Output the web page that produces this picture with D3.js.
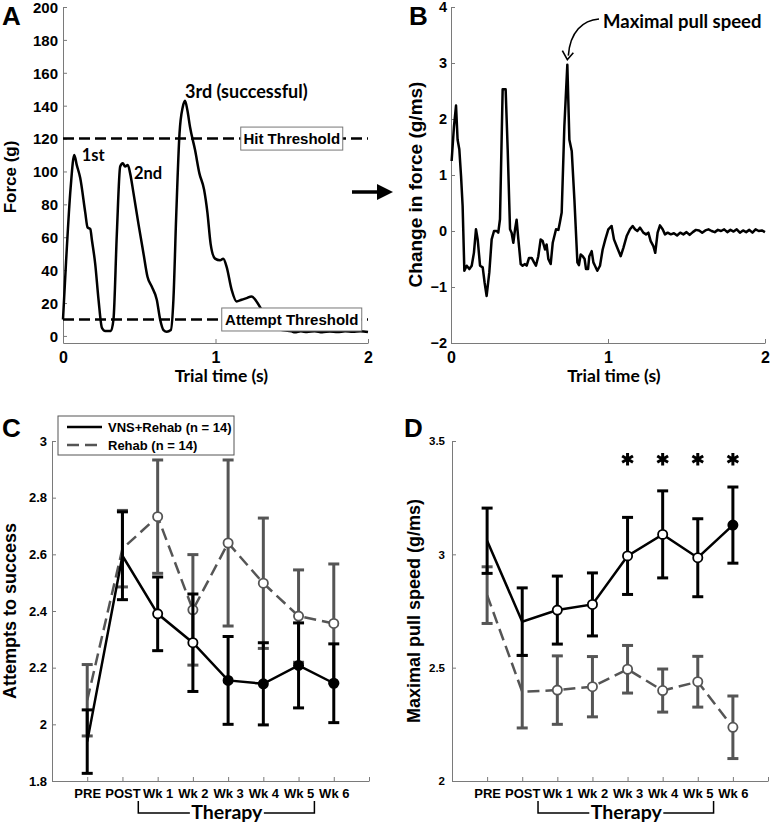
<!DOCTYPE html>
<html><head><meta charset="utf-8">
<script src="https://cdn.jsdelivr.net/npm/d3@7"></script>
<style>
body{margin:0;background:#fff;}
svg{display:block;}
</style></head>
<body>
<script>
// ---------- DATA ----------
// Panel A: force trace
const forceTime = [0,0.02,0.05,0.074,0.09,0.113,0.146,0.161,0.179,0.19,0.211,0.233,0.255,0.277,0.314,0.331,0.353,0.375,0.392,0.407,0.425,0.44,0.462,0.495,0.528,0.554,0.582,0.615,0.637,0.659,0.68,0.707,0.724,0.742,0.764,0.785,0.8,0.816,0.833,0.866,0.894,0.925,0.947,0.968,0.997,1.03,1.051,1.073,1.106,1.138,1.171,1.204,1.236,1.269,1.302,1.35,1.42,1.5,1.52,1.56,1.6,1.65,1.7,1.75,1.8,1.85,1.9,1.95,2.0];
const forceValue = [10,45,90,110,104,96,75,66,65,58,44,22,5,3,3,10,62,103,105,103,104,99,87,68,50,36,30,22,10,3.6,2.6,3.6,22,72,123,139,143,137,127,113,99,89,75,56,47,46,47,42,28,21,22,23,24,21,16,9,4,2.8,2.2,2.8,2.4,2.9,2.3,2.7,2.4,2.8,2.5,2.9,2.4];
const thresholdValues = [120, 10];
const thresholdLabels = ["Hit Threshold", "Attempt Threshold"];
const peakLabels = ["1st", "2nd", "3rd (successful)"];

// Panel B: change in force
const dfTime = [0.004,0.019,0.032,0.042,0.053,0.064,0.074,0.085,0.100,0.117,0.132,0.146,0.159,0.170,0.185,0.202,0.214,0.227,0.244,0.259,0.274,0.291,0.301,0.312,0.329,0.348,0.361,0.376,0.386,0.397,0.408,0.418,0.429,0.444,0.456,0.471,0.482,0.497,0.514,0.529,0.541,0.556,0.571,0.584,0.599,0.609,0.620,0.635,0.648,0.669,0.684,0.694,0.705,0.722,0.741,0.754,0.769,0.786,0.805,0.815,0.826,0.839,0.851,0.860,0.873,0.881,0.896,0.907,0.917,0.932,0.949,0.966,0.983,1.002,1.023,1.038,1.059,1.081,1.098,1.119,1.140,1.157,1.172,1.187,1.204,1.225,1.242,1.257,1.272,1.289,1.301,1.316,1.331,1.348,1.363,1.38,1.40,1.42,1.44,1.46,1.48,1.50,1.52,1.54,1.56,1.58,1.60,1.62,1.64,1.66,1.68,1.70,1.72,1.74,1.76,1.78,1.80,1.82,1.84,1.86,1.88,1.90,1.92,1.94,1.96,1.98,2.0];
const dfValue = [1.25,1.87,2.24,1.63,1.46,0.98,0.45,-0.71,-0.62,-0.68,-0.62,-0.39,0.03,-0.15,-0.62,-0.65,-0.92,-1.16,-0.74,-0.15,0,0,-0.03,0.21,2.53,2.53,1.46,0.03,-0.03,-0.21,0.03,0.2,-0.15,-0.59,-0.62,-0.59,-0.62,-0.48,-0.48,-0.56,-0.62,-0.45,-0.15,-0.18,-0.33,-0.24,-0.50,-0.59,-0.21,0.03,0.02,0.16,0.33,1.87,2.97,1.63,1.43,0.56,-0.56,-0.61,-0.42,-0.45,-0.50,-0.68,-0.68,-0.45,-0.36,-0.56,-0.62,-0.71,-0.62,-0.33,-0.15,0.03,0.09,-0.15,-0.30,-0.45,-0.30,-0.09,0.03,0.09,0.03,0,0.06,-0.03,-0.06,-0.03,-0.18,-0.27,-0.39,-0.03,0.10,0.03,-0.06,-0.03,-0.06,-0.04,-0.08,-0.03,-0.06,-0.02,-0.07,-0.02,0.02,0.01,-0.03,0.01,0.03,0.0,-0.02,0.02,0.0,0.03,-0.02,0.02,-0.01,0.03,-0.03,0.01,-0.02,0.02,-0.03,0.03,0.0,0.01,-0.02];

// Panels C & D
const categories = ["PRE","POST","Wk 1","Wk 2","Wk 3","Wk 4","Wk 5","Wk 6"];
const seriesNames = ["VNS+Rehab (n = 14)", "Rehab (n = 14)"];

const cVnsMean = [1.939,2.595,2.39,2.288,2.155,2.143,2.208,2.145];
const cVnsErr  = [0.112,0.155,0.13,0.172,0.155,0.145,0.15,0.139];
const cVnsMarker = ["none","none","open","open","filled","filled","filled","filled"];
const cRehabMean = [2.085,2.62,2.733,2.404,2.64,2.498,2.382,2.356];
const cRehabErr  = [0.126,0.135,0.2,0.195,0.293,0.23,0.163,0.21];
const cRehabMarker = ["none","none","open","open","open","open","open","open"];

const dVnsMean = [3.06,2.703,2.754,2.779,2.993,3.088,2.985,3.129];
const dVnsErr  = [0.144,0.149,0.15,0.139,0.17,0.192,0.172,0.168];
const dVnsMarker = ["none","none","open","open","open","open","open","filled"];
const dRehabMean = [2.82,2.394,2.401,2.416,2.493,2.399,2.438,2.237];
const dRehabErr  = [0.125,0.16,0.151,0.133,0.105,0.095,0.112,0.138];
const dRehabMarker = ["none","none","open","open","open","open","open","open"];
const dSignificant = ["Wk 3","Wk 4","Wk 5","Wk 6"];

const aTicks = [0,20,40,60,80,100,120,140,160,180,200];
const bTicks = [-2,-1,0,1,2,3,4];
const timeTicks = [0,1,2];
const cTicks = [1.8,2,2.2,2.4,2.6,2.8,3];
const dTicks = [2,2.5,3,3.5];

// ---------- DRAWING ----------
const W = 771, H = 823;
const ARIAL = "'Liberation Sans', Arial, sans-serif";
const CAL = "Lato, 'Open Sans', sans-serif";
const AXIS = "#7a7a7a";
const GRAY = "#555555";

const svg = d3.select("body").append("svg").attr("width", W).attr("height", H)
  .style("font-family", ARIAL);

function styleAxis(g, fs) {
  g.select(".domain").attr("stroke", AXIS).attr("stroke-width", 1);
  g.selectAll(".tick line").attr("stroke", AXIS).attr("stroke-width", 1);
  g.selectAll(".tick text").attr("fill", "#000").style("font-size", fs + "px")
    .style("font-weight", "bold").style("font-family", ARIAL);
}

function panelLetter(txt, x, y) {
  svg.append("text").attr("x", x).attr("y", y).text(txt)
    .style("font-size", "26px").style("font-weight", "bold");
}

function yLabel(txt, x, cy, fs) {
  svg.append("text").attr("transform", `translate(${x},${cy}) rotate(-90)`)
    .attr("text-anchor", "middle").text(txt)
    .style("font-size", fs + "px").style("font-weight", "bold");
}

// ---- Panel A ----
{
  const x = d3.scaleLinear().domain([0, 2]).range([63, 368]);
  const y = d3.scaleLinear().domain([-4.3, 200]).range([343, 7]);
  const gx = svg.append("g").attr("transform", "translate(0,343)")
    .call(d3.axisBottom(x).tickValues(timeTicks).tickFormat(d3.format("d")).tickSize(-4).tickSizeOuter(0).tickPadding(9));
  styleAxis(gx, 16);
  const gy = svg.append("g").attr("transform", "translate(63,0)")
    .call(d3.axisLeft(y).tickValues(aTicks).tickSize(-4).tickSizeOuter(0).tickPadding(5));
  styleAxis(gy, 15);
  gy.selectAll(".tick text").attr("dy", "0.36em");

  // thresholds
  thresholdValues.forEach(v => {
    svg.append("line").attr("x1", x(0)).attr("x2", x(2)).attr("y1", y(v)).attr("y2", y(v))
      .attr("stroke", "#000").attr("stroke-width", 2.5).attr("stroke-dasharray", "11,5");
  });

  const line = d3.line().x((d, i) => x(forceTime[i])).y(d => y(d)).curve(d3.curveMonotoneX);
  svg.append("path").attr("d", line(forceValue)).attr("fill", "none")
    .attr("stroke", "#000").attr("stroke-width", 2.5).attr("stroke-linejoin", "round");

  // threshold boxes
  const boxes = [{cx: x(1.5), w: 102}, {cx: x(1.5), w: 140}];
  thresholdValues.forEach((v, i) => {
    const b = boxes[i];
    svg.append("rect").attr("x", b.cx - b.w / 2).attr("y", y(v) - 11.5).attr("width", b.w).attr("height", 23)
      .attr("fill", "#fff").attr("stroke", "#777").attr("stroke-width", 1);
    svg.append("text").attr("x", b.cx).attr("y", y(v) + 5.5).attr("text-anchor", "middle")
      .text(thresholdLabels[i]).style("font-size", "15px").style("font-weight", "bold");
  });

  // peak labels
  const peakPos = [[0.11, 110], [0.465, 100], [0.8, 143]];
  const peakOff = [[2, 6], [0, 8], [0, -3]];
  const peakFs = [16.5, 16.5, 18];
  peakLabels.forEach((t, i) => {
    svg.append("text").attr("x", x(peakPos[i][0]) + peakOff[i][0]).attr("y", y(peakPos[i][1]) + peakOff[i][1])
      .text(t).style("font-family", CAL).style("font-size", peakFs[i] + "px").style("font-weight", "bold");
  });

  svg.append("text").attr("x", (x(0) + x(2)) / 2 + 6).attr("y", 382).attr("text-anchor", "middle")
    .text("Trial time (s)").style("font-family", CAL).style("font-size", "17.5px").style("font-weight", "bold");
  yLabel("Force (g)", 15.5, 177, 17);
  panelLetter("A", 2, 25);
}

// arrow between A and B
svg.append("line").attr("x1", 352).attr("x2", 379).attr("y1", 192).attr("y2", 192)
  .attr("stroke", "#000").attr("stroke-width", 3.5);
svg.append("path").attr("d", "M377,184 L393,192 L377,200 Z").attr("fill", "#000");

// ---- Panel B ----
{
  const x = d3.scaleLinear().domain([0, 2]).range([451, 765]);
  const y = d3.scaleLinear().domain([-2, 4]).range([343, 7]);
  const gx = svg.append("g").attr("transform", "translate(0,343)")
    .call(d3.axisBottom(x).tickValues(timeTicks).tickFormat(d3.format("d")).tickSize(-4).tickSizeOuter(0).tickPadding(9));
  styleAxis(gx, 16);
  const gy = svg.append("g").attr("transform", "translate(451,0)")
    .call(d3.axisLeft(y).tickValues(bTicks).tickFormat(d3.format("d")).tickSize(-4).tickSizeOuter(0).tickPadding(4));
  styleAxis(gy, 14.5);

  const line = d3.line().x((d, i) => x(dfTime[i])).y(d => y(d));
  svg.append("path").attr("d", line(dfValue)).attr("fill", "none")
    .attr("stroke", "#000").attr("stroke-width", 2.5).attr("stroke-linejoin", "round");

  svg.append("text").attr("x", 603).attr("y", 28).text("Maximal pull speed")
    .style("font-family", CAL).style("font-size", "18.5px").style("font-weight", "bold");
  const tipX = x(0.741), tipY = y(2.97) - 5;
  svg.append("path").attr("d", `M599,19 C583,20 570,32 ${tipX + 1},${tipY - 4}`)
    .attr("fill", "none").attr("stroke", "#000").attr("stroke-width", 1.6);
  svg.append("path").attr("d", `M${tipX - 5},${tipY - 9} L${tipX},${tipY} L${tipX + 6},${tipY - 7}`)
    .attr("fill", "none").attr("stroke", "#000").attr("stroke-width", 1.6);

  svg.append("text").attr("x", (x(0) + x(2)) / 2 + 6).attr("y", 382).attr("text-anchor", "middle")
    .text("Trial time (s)").style("font-family", CAL).style("font-size", "17.5px").style("font-weight", "bold");
  yLabel("Change in force (g/ms)", 421.5, 184.5, 19);
  panelLetter("B", 409, 25);
}

// ---- Panels C and D ----
function groupPanel(o) {
  const x = d3.scaleLinear().domain([0, 9]).range([o.x0, o.x1]);
  const y = d3.scaleLinear().domain(o.yDomain).range([781, 441]);
  const gx = svg.append("g").attr("transform", "translate(0,781)")
    .call(d3.axisBottom(x).tickValues(d3.range(0, 10)).tickFormat(i => categories[i - 1] || "")
      .tickSize(-4).tickSizeOuter(0).tickPadding(8));
  styleAxis(gx, 13);
  const gy = svg.append("g").attr("transform", `translate(${o.x0},0)`)
    .call(d3.axisLeft(y).tickValues(o.yTicks).tickFormat(d => String(d)).tickSize(-4).tickSizeOuter(0).tickPadding(o.yPad));
  styleAxis(gy, o.yFs);

  const series = [
    {mean: o.rehabMean, err: o.rehabErr, marker: o.rehabMarker, color: GRAY, dash: "12,6"},
    {mean: o.vnsMean, err: o.vnsErr, marker: o.vnsMarker, color: "#000", dash: null}
  ];
  series.forEach(s => {
    const g = svg.append("g");
    const line = d3.line().x((d, i) => x(i + 1)).y(d => y(d));
    g.append("path").attr("d", line(s.mean)).attr("fill", "none").attr("stroke", s.color)
      .attr("stroke-width", 2.5).attr("stroke-dasharray", s.dash);
    s.mean.forEach((m, i) => {
      const cx = x(i + 1), lo = y(m - s.err[i]), hi = y(m + s.err[i]);
      g.append("line").attr("x1", cx).attr("x2", cx).attr("y1", lo).attr("y2", hi)
        .attr("stroke", s.color).attr("stroke-width", 3);
      [lo, hi].forEach(yy => g.append("line").attr("x1", cx - 5.5).attr("x2", cx + 5.5)
        .attr("y1", yy).attr("y2", yy).attr("stroke", s.color).attr("stroke-width", 3));
    });
    s.mean.forEach((m, i) => {
      if (s.marker[i] === "none") return;
      g.append("circle").attr("cx", x(i + 1)).attr("cy", y(m)).attr("r", 4.6)
        .attr("fill", s.marker[i] === "filled" ? s.color : "#fff")
        .attr("stroke", s.color).attr("stroke-width", 1.8);
    });
  });

  // therapy bracket
  const bx0 = x(2.45), bx1 = x(7.45), by = 813;
  svg.append("path").attr("d", `M${bx0},801V${by}H${bx1}V801`).attr("fill", "none")
    .attr("stroke", "#000").attr("stroke-width", 1.5);
  const tcx = (bx0 + bx1) / 2 + 0.5;
  svg.append("rect").attr("x", tcx - 37).attr("y", 804).attr("width", 74).attr("height", 19).attr("fill", "#fff");
  svg.append("text").attr("x", tcx).attr("y", 819).attr("text-anchor", "middle").text("Therapy")
    .style("font-family", CAL).style("font-size", "19.5px").style("font-weight", "bold");

  yLabel(o.ylabel, o.ylabelX, 611, 18);
  panelLetter(o.letter, o.letterX, 437);
  return {x, y};
}

const C = groupPanel({x0: 52, x1: 369, yDomain: [1.8, 3], yTicks: cTicks, yPad: 5, yFs: 13,
  vnsMean: cVnsMean, vnsErr: cVnsErr, vnsMarker: cVnsMarker,
  rehabMean: cRehabMean, rehabErr: cRehabErr, rehabMarker: cRehabMarker,
  ylabel: "Attempts to success", ylabelX: 16, letter: "C", letterX: 2});

const D = groupPanel({x0: 452, x1: 768, yDomain: [2, 3.5], yTicks: dTicks, yPad: 7, yFs: 11.5,
  vnsMean: dVnsMean, vnsErr: dVnsErr, vnsMarker: dVnsMarker,
  rehabMean: dRehabMean, rehabErr: dRehabErr, rehabMarker: dRehabMarker,
  ylabel: "Maximal pull speed (g/ms)", ylabelX: 420, letter: "D", letterX: 404});

// asterisks in D
dSignificant.forEach(c => {
  const i = categories.indexOf(c) + 1;
  svg.append("path").attr("d", d3.symbol().type(d3.symbolAsterisk).size(110)())
    .attr("transform", `translate(${D.x(i)},${D.y(3.42)})`)
    .attr("fill", "none").attr("stroke", "#000").attr("stroke-width", 3);
});

// legend in C
{
  const lg = svg.append("g");
  lg.append("rect").attr("x", 58).attr("y", 416).attr("width", 176).attr("height", 39)
    .attr("fill", "#fff").attr("stroke", "#555").attr("stroke-width", 1);
  const rows = [{y: 427, color: "#000", dash: null}, {y: 445, color: GRAY, dash: "12,6"}];
  rows.forEach((r, i) => {
    lg.append("line").attr("x1", 67).attr("x2", 102).attr("y1", r.y).attr("y2", r.y)
      .attr("stroke", r.color).attr("stroke-width", 2.5).attr("stroke-dasharray", r.dash);
    lg.append("text").attr("x", 108).attr("y", r.y + 4.5).text(seriesNames[i])
      .style("font-size", "13px").style("font-weight", "bold");
  });
}
</script>
</body></html>
